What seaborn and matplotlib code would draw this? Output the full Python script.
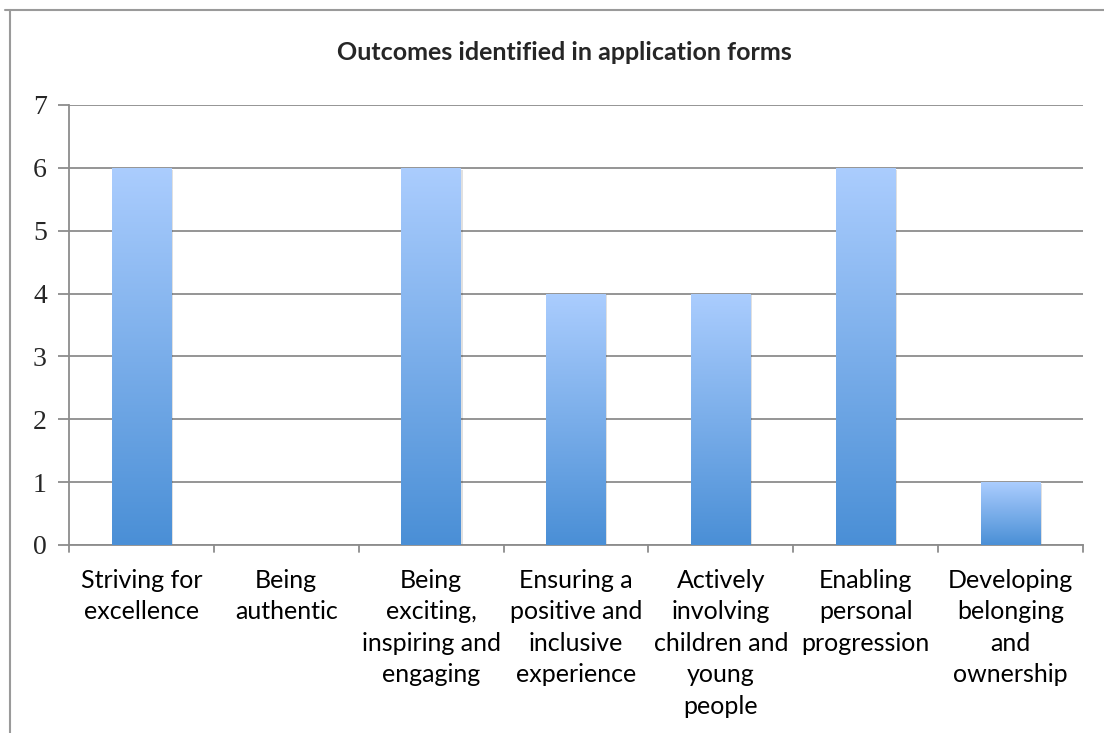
import numpy as np
import pandas as pd
import matplotlib
matplotlib.use("Agg")
import matplotlib.pyplot as plt
from matplotlib.colors import LinearSegmentedColormap
from matplotlib.lines import Line2D
import seaborn as sns

categories = [
    "Striving for\nexcellence",
    "Being\nauthentic",
    "Being\nexciting,\ninspiring and\nengaging",
    "Ensuring a\npositive and\ninclusive\nexperience",
    "Actively\ninvolving\nchildren and\nyoung\npeople",
    "Enabling\npersonal\nprogression",
    "Developing\nbelonging\nand\nownership",
]
values = [6, 0, 6, 4, 4, 6, 1]
yticks = [0, 1, 2, 3, 4, 5, 6, 7]
title = "Outcomes identified in application forms"

sns.set_theme(style="white")
plt.rcParams["font.family"] = ["Lato", "DejaVu Sans"]

df = pd.DataFrame({"category": categories, "value": values})

fig = plt.figure(figsize=(11.04, 7.33), dpi=100)
ax = fig.add_axes([69 / 1104, 1 - 545 / 733, (1083 - 69) / 1104, (545 - 105) / 733])

sns.barplot(data=df, x="category", y="value", ax=ax, width=0.41,
            color="#6fa6e6", saturation=1, linewidth=0, zorder=3)

ax.set_ylim(0, 7)
ax.set_xlim(-0.5, len(categories) - 0.5)
ax.set_yticks(yticks)
ax.set_yticklabels([str(t) for t in yticks], fontfamily="Liberation Serif", fontsize=20)
ax.set_xticks(range(len(categories)))
ax.set_xticklabels(categories, fontsize=18, linespacing=1.45, va="top")
ax.set_xlabel("")
ax.set_ylabel("")
ax.tick_params(axis="x", pad=17, length=0, colors="black")
ax.tick_params(axis="y", length=8, width=1.3, color="#8c8c8c", pad=8, left=True)

ax.grid(axis="y", color="#8c8c8c", linewidth=1.3, zorder=0)
ax.set_axisbelow(True)
for s in ["top", "right"]:
    ax.spines[s].set_visible(False)
for s in ["left", "bottom"]:
    ax.spines[s].set_color("#8c8c8c")
    ax.spines[s].set_linewidth(1.3)

# x tick marks at category boundaries
trans = ax.get_xaxis_transform()
for b in np.arange(-0.5, len(categories), 1.0):
    ax.add_line(Line2D([b, b], [0, -0.016], transform=trans, color="#8c8c8c",
                       linewidth=1.3, clip_on=False))

# gradient fill for each bar
cmap = LinearSegmentedColormap.from_list("g", ["#4a8fd6", "#abcdfe"])
grad = np.linspace(0, 1, 256).reshape(-1, 1)
for p in list(ax.patches):
    h = p.get_height()
    if h <= 0:
        continue
    x0, w = p.get_x(), p.get_width()
    # subtle shadow
    ax.bar(x0 + w / 2 + 0.012, h, width=w, bottom=-0.03, color="#000000",
           alpha=0.12, linewidth=0, zorder=2)
    im = ax.imshow(grad, extent=[x0, x0 + w, 0, h], origin="lower", cmap=cmap,
                   aspect="auto", zorder=3.5, interpolation="bilinear")
    im.set_clip_path(p)
    p.set_facecolor("none")
ax.set_xlim(-0.5, len(categories) - 0.5)
ax.set_ylim(0, 7)

fig.text(564 / 1104, 1 - 53 / 733, title, ha="center", va="center",
         fontsize=18, fontweight="bold")

# outer frame lines
fig.add_artist(Line2D([5 / 1104, 1], [1 - 10 / 733, 1 - 10 / 733], transform=fig.transFigure,
                      color="#9a9a9a", linewidth=1.5))
fig.add_artist(Line2D([10 / 1104, 10 / 1104], [1 - 10 / 733, 0], transform=fig.transFigure,
                      color="#9a9a9a", linewidth=1.5))

fig.savefig("out.png", dpi=100)
